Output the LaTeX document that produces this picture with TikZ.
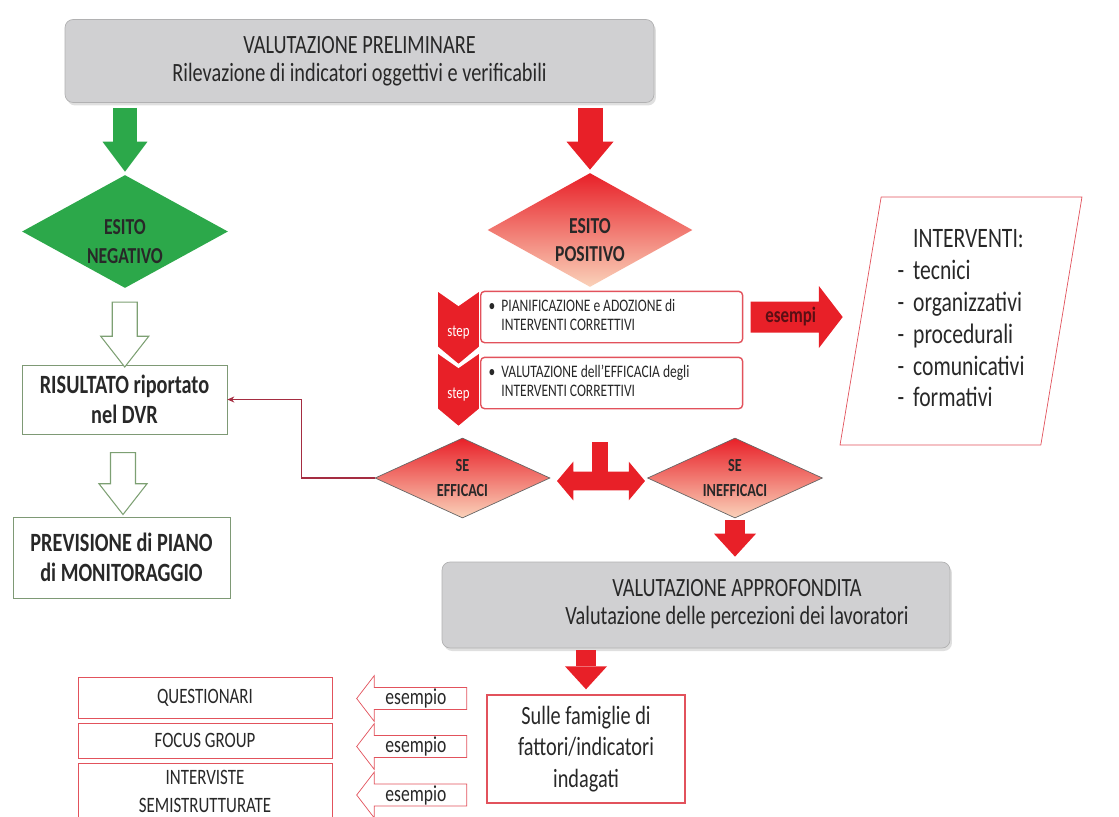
\documentclass[tikz,border=0pt]{standalone}
\usepackage{fontspec}
\setmainfont{Carlito}[FakeStretch=0.77]
\usetikzlibrary{arrows.meta,shapes.geometric,shapes.arrows,shadows,calc}
\definecolor{rosso}{RGB}{232,32,40}
\definecolor{bordorosso}{RGB}{226,82,92}
\definecolor{verde}{RGB}{44,168,74}
\definecolor{verdechiaro}{RGB}{125,160,115}
\definecolor{grigio}{RGB}{208,208,210}
\definecolor{salmone}{RGB}{250,210,186}
\definecolor{rossoscuro}{RGB}{165,45,65}
\definecolor{testo}{RGB}{40,40,40}
\tikzset{
  grigiobox/.style={rectangle, rounded corners=0.16cm, fill=grigio, draw=grigio!85!black,
    drop shadow={opacity=0.25,shadow xshift=0.04cm,shadow yshift=-0.06cm},
    align=center, text=testo, font=\fontsize{15}{15.8}\selectfont},
  esito/.style={diamond, aspect=1.8, inner sep=0pt, align=center, text=testo,
    font=\bfseries\fontsize{13}{16.4}\selectfont},
  sebox/.style={diamond, aspect=2.2, inner sep=0pt, align=center, text=testo,
    top color=rosso, bottom color=salmone, draw=gray!80!black,
    minimum width=3.5cm, minimum height=1.6cm, font=\bfseries\fontsize{10.5}{14}\selectfont},
  esitobox/.style={rectangle, draw=verdechiaro!80!gray, fill=white, align=center, text=testo,
    font=\bfseries\fontsize{15}{17}\selectfont},
  hollowfreccia/.style={single arrow, draw=verdechiaro, fill=white, rotate=-90, line width=0.6pt,
    inner xsep=0pt, inner ysep=0.24cm, single arrow head extend=0.23cm, single arrow tip angle=76,
    single arrow head indent=0pt},
  verdeblock/.style={draw=verde, line width=0.48cm,
    -{Triangle[width=0.9cm,length=0.6cm,line width=0pt]}, shorten <=0.1cm, shorten >=0.06cm},
  rossoblock/.style={draw=rosso, line width=0.5cm,
    -{Triangle[width=0.94cm,length=0.56cm,line width=0pt]}, shorten <=0.1cm, shorten >=0.06cm},
  rossopiccolo/.style={draw=rosso, line width=0.4cm,
    -{Triangle[width=0.84cm,length=0.46cm,line width=0pt]}, shorten <=0.04cm, shorten >=0.1cm},
  stepbox/.style={rectangle, rounded corners=0.08cm, draw=bordorosso, line width=0.8pt, fill=white,
    anchor=west, minimum height=1cm, text width=4.92cm, inner xsep=0.16cm, align=left,
    text=testo, font=\fontsize{10}{11.3}\selectfont,
    execute at begin node={\setlength{\spaceskip}{0.17em plus 0.05em}}},
  chev/.style={fill=rosso, draw=white, line width=1pt},
  chevtxt/.style={text=white, inner sep=0pt, font=\fontsize{9.5}{10}\selectfont},
  esempifreccia/.style={single arrow, fill=rosso, anchor=tail, minimum height=1.84cm,
    inner xsep=0pt, inner ysep=0.29cm-0.5em, single arrow head extend=0.31cm, single arrow tip angle=105,
    text={rgb,255:red,90;green,15;blue,20}, font=\bfseries\fontsize{12.5}{13}\selectfont},
  esempiofreccia/.style={single arrow, shape border rotate=180, draw=bordorosso, fill=white,
    anchor=tail, minimum height=2.2cm, single arrow head extend=0.24cm,
    single arrow tip angle=105, inner ysep=0.5pt, inner xsep=2pt, text=testo,
    font=\fontsize{13}{13}\selectfont},
  metodo/.style={rectangle, draw=bordorosso, fill=white, minimum width=5.08cm, align=center,
    text=testo, font=\fontsize{12.5}{15.5}\selectfont},
  ritorno/.style={draw=rossoscuro, line width=0.6pt, -{Stealth[length=0.14cm,width=0.12cm]}}
}
\begin{document}
\begin{tikzpicture}[x=0.02cm,y=-0.02cm]
  \useasboundingbox (0,0) rectangle (1119,816);
  \node[grigiobox, minimum width=11.78cm, minimum height=1.66cm] (prelim) at (359.5,61)
    {VALUTAZIONE PRELIMINARE\\Rilevazione di indicatori oggettivi e verificabili};
  \node[esito, fill=verde, minimum width=4.12cm, minimum height=2.26cm] (negdia) at (125,231.5) {\rule{0pt}{20pt}ESITO\\NEGATIVO};
  \node[esito, top color=rosso, bottom color=salmone, minimum width=4.1cm, minimum height=2.28cm] (posdia) at (590,230) {\rule{0pt}{20pt}ESITO\\POSITIVO};
  \draw[verdeblock] (prelim.south -| negdia.north) -- (negdia.north);
  \draw[rossoblock] (prelim.south -| posdia.north) -- (posdia.north);

  \node[esitobox, minimum width=4.1cm, minimum height=1.38cm] (ris) at (124.5,399.5) {RISULTATO riportato\\nel DVR};
  \node[esitobox, minimum width=4.34cm, minimum height=1.62cm] (prev) at (121.5,557.5) {PREVISIONE di PIANO\\di MONITORAGGIO};
  \node[hollowfreccia, minimum height=1.3cm] (giu1) at ($(negdia.south)!0.5!(ris.north)$) {};
  \node[hollowfreccia, minimum height=1.24cm] (giu2) at ($(ris.south)!0.5!(prev.north)$) {};

  \foreach \y [count=\i] in {290,352} {
    \filldraw[chev] (437,\y) -- ++(21.5,15) -- ++(21.5,-15) -- ++(0,57) -- ++(-21.5,18) -- ++(-21.5,-18) -- cycle;
    \node[chevtxt] (chev\i) at (458.5,\y+43) {step};
  }
  \node[stepbox] (step1) at (480,317)
    {\begin{tabular}{@{}l@{\hspace{0.12cm}}l@{}}\textbullet & PIANIFICAZIONE e ADOZIONE di\\ & INTERVENTI CORRETTIVI\end{tabular}};
  \node[stepbox] (step2) at (480,383)
    {\begin{tabular}{@{}l@{\hspace{0.12cm}}l@{}}\textbullet & VALUTAZIONE dell’EFFICACIA degli\\ & INTERVENTI CORRETTIVI\end{tabular}};
  \node[esempifreccia] (esempi) at ($(step1.east)+(7,0)$) {esempi};
  \node[trapezium, trapezium left angle=80, trapezium right angle=100, trapezium stretches=true,
    draw=bordorosso, fill=white, minimum width=4.84cm, minimum height=4.96cm, text=testo,
    font=\fontsize{16}{18.1}\selectfont] (interventi) at (961,321)
    {\begin{tabular}{@{}l@{\hspace{0.18cm}}l@{}}
      & INTERVENTI:\\
      - & tecnici\\
      - & organizzativi\\
      - & procedurali\\
      - & comunicativi\\
      - & formativi
    \end{tabular}};

  \node[sebox] (seeff) at (462.5,478) {SE\\EFFICACI};
  \node[sebox] (seineff) at (735,478) {SE\\INEFFICACI};
  \coordinate (stemtop) at (600,442);
  \node[double arrow, fill=rosso, minimum height=1.76cm, inner xsep=0pt, inner ysep=0.18cm,
    double arrow head extend=0.2cm, double arrow tip angle=100] (bivio) at (601,481) {};
  \draw[line width=0.32cm, rosso] (stemtop) -- (stemtop |- bivio.center);
  \draw[ritorno] (seeff.west) -- ++(-73,0) |- (ris.east);

  \node[grigiobox, minimum width=10.16cm, minimum height=1.72cm] (approf) at (696,605)
    {\begin{tabular}{@{\hspace{1.64cm}}c@{}}VALUTAZIONE APPROFONDITA\\Valutazione delle percezioni dei lavoratori\end{tabular}};
  \draw[rossopiccolo] (seineff.south) -- (seineff.south |- approf.north);
  \node[rectangle, draw=bordorosso, line width=0.8pt, fill=white, minimum width=3.96cm, minimum height=2.16cm,
    align=center, text=testo, font=\fontsize{15}{18}\selectfont] (sulle) at (586,749)
    {Sulle famiglie di\\fattori/indicatori\\indagati};
  \draw[rossopiccolo] (approf.south -| sulle.north) -- (sulle.north);

  \foreach \y [count=\i] in {698.5,746.5,795}
    \node[esempiofreccia] (es\i) at (467,\y) {esempio};
  \node[metodo, minimum height=0.82cm] (quest) at (205,697.5) {QUESTIONARI};
  \node[metodo, minimum height=0.7cm] (focus) at (205,740.5) {FOCUS GROUP};
  \node[metodo, minimum height=1.12cm, anchor=north] (interv) at (205,763) {INTERVISTE\\SEMISTRUTTURATE};
\end{tikzpicture}
\end{document}
